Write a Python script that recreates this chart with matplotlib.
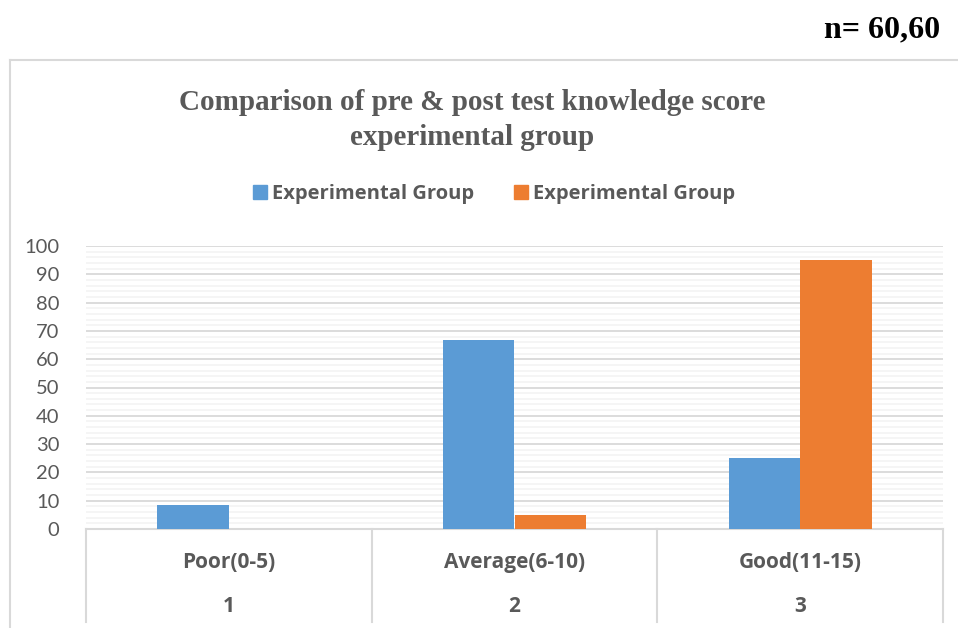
import matplotlib.pyplot as plt
from matplotlib.lines import Line2D
from matplotlib.patches import Patch
import numpy as np

# Data
categories = ['Poor(0-5)', 'Average(6-10)', 'Good(11-15)']
category_numbers = ['1', '2', '3']
pre_values = [8.33, 66.67, 25.0]
post_values = [0.0, 5.0, 95.0]
series_names = ['Experimental Group', 'Experimental Group']

blue = '#5B9BD5'
orange = '#ED7D31'
text_gray = '#595959'
line_gray = '#D9D9D9'
bold_font = 'Open Sans'

fig = plt.figure(figsize=(9.58, 6.28), dpi=100)
ax = fig.add_axes([86 / 958, 1 - 529 / 628, (943 - 86) / 958, (529 - 246) / 628])

x = np.arange(len(categories))
w = 0.25
ax.bar(x - w / 2, pre_values, w, color=blue, zorder=3)
ax.bar(x + w / 2, post_values, w, color=orange, zorder=3)

ax.set_xlim(-0.5, 2.5)
ax.set_ylim(0, 100)
ax.set_yticks(np.arange(0, 101, 10))
ax.set_yticks(np.arange(0, 101, 2), minor=True)
ax.grid(axis='y', which='major', color=line_gray, linewidth=1.3, zorder=0)
ax.grid(axis='y', which='minor', color='#F2F2F2', linewidth=1.1, zorder=0)
ax.tick_params(axis='y', which='both', length=0, pad=19, labelsize=14.5,
               labelcolor=text_gray, labelfontfamily='Lato')
ax.set_xticks([])
for s in ['top', 'right', 'left']:
    ax.spines[s].set_visible(False)
ax.spines['bottom'].set_color(line_gray)
ax.spines['bottom'].set_linewidth(1.5)

# two-level category axis
trans = ax.get_xaxis_transform()
for b in np.arange(-0.5, 3.0, 1.0):
    ax.plot([b, b], [0, -0.329], transform=trans, color=line_gray,
            linewidth=1.5, clip_on=False)
for i, (c, n) in enumerate(zip(categories, category_numbers)):
    ax.text(i, -0.12, c, transform=trans, ha='center', va='center',
            fontsize=15, fontweight='bold', color=text_gray, family=bold_font)
    ax.text(i, -0.275, n, transform=trans, ha='center', va='center',
            fontsize=15, fontweight='bold', color=text_gray, family=bold_font)

# legend
handles = [Patch(color=blue), Patch(color=orange)]
fig.legend(handles, series_names, loc='center', bbox_to_anchor=(494 / 958, 1 - 194 / 628),
           ncol=2, frameon=False, handlelength=0.7, handleheight=0.7,
           handletextpad=0.25, columnspacing=2.0,
           prop={'family': bold_font, 'weight': 'bold', 'size': 14.5},
           labelcolor=text_gray)

# title
fig.text(472 / 958, 1 - 120 / 628,
         'Comparison of pre & post test knowledge score\nexperimental group',
         ha='center', va='center', fontsize=21, fontweight='bold',
         family='Liberation Serif', color=text_gray, linespacing=1.4)

# n label
fig.text(940 / 958, 1 - 30 / 628, 'n= 60,60', ha='right', va='center',
         fontsize=23, fontweight='bold', family='Liberation Serif', color='black')

# chart border
fig.add_artist(Line2D([10 / 958, 1.0], [1 - 60 / 628, 1 - 60 / 628],
                      color=line_gray, linewidth=1.5))
fig.add_artist(Line2D([10 / 958, 10 / 958], [0, 1 - 60 / 628],
                      color=line_gray, linewidth=1.5))

fig.savefig('out.png', dpi=100)
